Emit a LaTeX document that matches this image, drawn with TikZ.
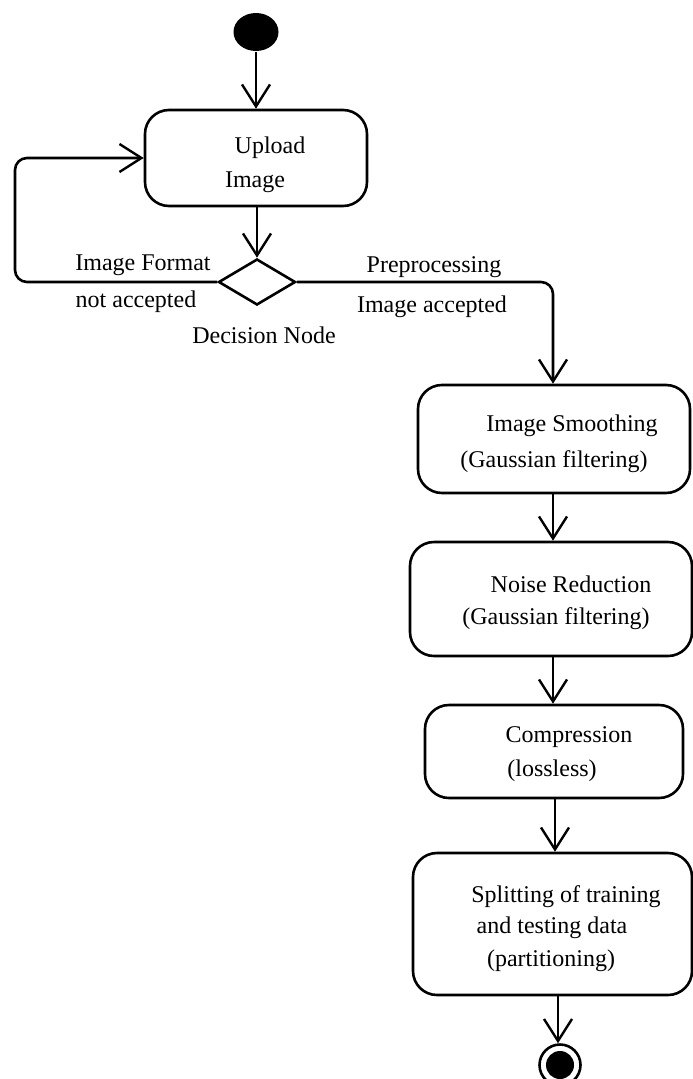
\documentclass[tikz,border=0pt]{standalone}
\usepackage{fontspec}
\setmainfont{Liberation Serif}
\usetikzlibrary{arrows.meta,shapes.geometric}
\begin{document}
\begin{tikzpicture}[x=1pt,y=-1pt,
  line width=2.6pt,
  box/.style={draw,rounded corners=24pt,inner sep=0pt,minimum width=#1},
  txt/.style={inner sep=0pt,text height=16pt,text depth=5pt,font=\fontsize{24}{29}\selectfont},
  flow/.style={-{Straight Barb[length=22pt,width=28pt,line width=2.4pt]}},
  lineto/.style={rounded corners=12pt}
]
\useasboundingbox (0,0) rectangle (693,1079);
% nodes
\node[ellipse,fill=black,minimum width=45pt,minimum height=38pt,inner sep=0pt] (start) at (256,32) {};
\node[box=222pt,minimum height=96pt] (upload) at (256,158) {};
\node[diamond,draw,inner sep=0pt,minimum width=77pt,minimum height=46pt] (dec) at (257,282) {};
\node[box=272pt,minimum height=108pt] (smooth) at (554,439) {};
\node[box=282pt,minimum height=114pt] (noise) at (551,599) {};
\node[box=258pt,minimum height=93pt] (comp) at (554,751.5) {};
\node[box=279pt,minimum height=142pt] (split) at (552.5,924) {};
\node[circle,draw,minimum size=41pt,inner sep=0pt] (end) at (560,1065) {};
\node[circle,fill=black,minimum size=28pt,inner sep=0pt] (endin) at (end.center) {};
% texts
\node[txt] (t1) at (270,148) {Upload};
\node[txt] (t2) at (255,182) {Image};
\node[txt] (t3) at (143,265) {Image Format};
\node[txt] (t4) at (136,302) {not accepted};
\node[txt] (t5) at (264,338) {Decision Node};
\node[txt] (t6) at (434,267) {Preprocessing};
\node[txt] (t7) at (432,307) {Image accepted};
\node[txt] (t8) at (572,426) {Image Smoothing};
\node[txt] (t9) at (554,462) {(Gaussian filtering)};
\node[txt] (t10) at (571,587) {Noise Reduction};
\node[txt] (t11) at (556,619) {(Gaussian filtering)};
\node[txt] (t12) at (569,737) {Compression};
\node[txt] (t13) at (552,771) {(lossless)};
\node[txt] (t14) at (566,897) {Splitting of training};
\node[txt] (t15) at (552,928) {and testing data};
\node[txt] (t16) at (551,961) {(partitioning)};
% connectors
\coordinate (lc) at (15,282);
\coordinate (rc) at (553,282);
\draw[flow] (start) -- (upload.north -| start);
\draw[flow] (upload.south -| dec) -- (dec.north);
\draw[flow,lineto] (dec.west) -- (lc) -- (lc |- upload.west) -- (upload.west);
\draw[flow,lineto] (dec.east) -- (rc) -- (rc |- smooth.north);
\draw[flow] (smooth.south -| rc) -- (noise.north -| rc);
\draw[flow] (noise.south -| rc) -- (comp.north -| rc);
\draw[flow] (comp.south -| 555,0) -- (split.north -| 555,0);
\draw[flow] (split.south -| 558,0) -- (end.north -| 558,0);
\end{tikzpicture}
\end{document}
